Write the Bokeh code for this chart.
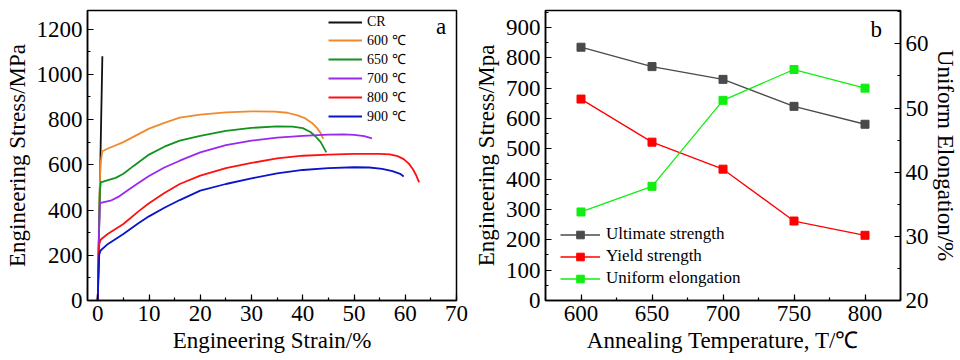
from bokeh.plotting import figure
from bokeh.layouts import row
from bokeh.models import (Range1d, LinearAxis, SingleIntervalTicker, Legend,
                          LegendItem, Label)
from bokeh.embed import file_html
from bokeh.resources import INLINE

FONT = "Liberation Serif"

# ---------------- data: panel a (stress-strain curves) ----------------
cr_strain = [0, 0.9]
cr_stress = [0, 1080]

s600_strain = [0, 0.2, 0.5, 0.9, 2, 5, 7.5, 10, 13, 16, 20, 25, 30, 34.5, 37, 39, 40.5, 41.8, 42.8, 43.5, 44.0]
s600_stress = [0, 300, 600, 660, 672, 700, 730, 760, 785, 808, 822, 832, 836, 835, 830, 818, 805, 785, 762, 740, 715]

s650_strain = [0, 0.2, 0.4, 0.6, 2, 3.5, 5, 7, 10, 13, 16, 20, 25, 30, 35, 38, 40, 41.5, 42.5, 43.5, 44.6]
s650_stress = [0, 250, 480, 522, 532, 542, 560, 595, 645, 680, 707, 728, 750, 763, 770, 769, 762, 745, 725, 700, 655]

s700_strain = [0, 0.2, 0.4, 1, 2.5, 4, 6, 8, 10, 13, 16, 20, 25, 30, 35, 40, 45, 48, 50, 52, 53.5]
s700_stress = [0, 250, 430, 434, 441, 458, 490, 520, 550, 588, 618, 655, 687, 707, 720, 728, 733, 734, 732, 727, 717]

s800_strain = [0, 0.15, 0.3, 0.6, 2, 5, 8, 10, 13, 16, 20, 25, 30, 35, 40, 45, 50, 55, 57, 58.5, 59.7, 60.7, 61.5, 62.1, 62.7]
s800_stress = [0, 150, 250, 270, 295, 338, 395, 430, 475, 515, 552, 585, 608, 628, 640, 645, 648, 648, 646, 638, 625, 605, 580, 555, 522]

s900_strain = [0, 0.15, 0.3, 0.6, 2, 5, 8, 10, 13, 16, 20, 25, 30, 35, 40, 45, 50, 53, 55.5, 57.5, 59, 59.7]
s900_stress = [0, 120, 205, 222, 250, 294, 343, 372, 410, 444, 486, 515, 540, 562, 577, 585, 589, 588, 582, 572, 560, 548]

curve_labels = ["CR", "600 ℃", "650 ℃", "700 ℃", "800 ℃", "900 ℃"]

# ---------------- data: panel b ----------------
temperature = [600, 650, 700, 750, 800]
ultimate_strength = [835, 771, 729, 640, 581]
yield_strength = [664, 522, 433, 262, 215]
uniform_elongation = [33.8, 37.8, 51.2, 56.0, 53.1]
series_labels = ["Ultimate strength", "Yield strength", "Uniform elongation"]


def style(p):
    p.outline_line_color = "black"
    p.outline_line_width = 1.5
    p.outline_line_alpha = 1
    p.grid.visible = False
    p.background_fill_color = "white"
    p.border_fill_color = "white"
    for ax in p.axis:
        ax.axis_line_color = "black"
        ax.axis_line_width = 1.5
        ax.major_tick_in = 6
        ax.major_tick_out = 0
        ax.minor_tick_in = 3
        ax.minor_tick_out = 0
        ax.major_tick_line_color = "black"
        ax.minor_tick_line_color = "black"
        ax.major_tick_line_width = 1.2
        ax.minor_tick_line_width = 1.2
        ax.major_label_text_font = FONT
        ax.major_label_text_font_size = "23px"
        ax.major_label_text_color = "black"
        ax.axis_label_text_font = FONT
        ax.axis_label_text_font_size = "23px"
        ax.axis_label_text_font_style = "normal"
        ax.axis_label_text_color = "black"
        ax.major_label_standoff = 5
        ax.axis_label_standoff = 4


# ---------------- panel a ----------------
p1 = figure(width=470, height=360, output_backend="svg", toolbar_location=None,
            x_range=Range1d(-2, 70), y_range=Range1d(0, 1282),
            min_border_left=87, min_border_right=14, min_border_top=10,
            min_border_bottom=60)
p1.xaxis.ticker = SingleIntervalTicker(interval=10, num_minor_ticks=2)
p1.yaxis.ticker = SingleIntervalTicker(interval=200, num_minor_ticks=2)
p1.xaxis.axis_label = "Engineering Strain/%"
p1.yaxis.axis_label = "Engineering Stress/MPa"

colors_a = ["#111111", "#f08a2c", "#12921e", "#9a28f0", "#ff1010", "#0a14c8"]
strains = [cr_strain, s600_strain, s650_strain, s700_strain, s800_strain, s900_strain]
stresses = [cr_stress, s600_stress, s650_stress, s700_stress, s800_stress, s900_stress]
items = []
for xs, ys, c, lab in zip(strains, stresses, colors_a, curve_labels):
    r = p1.line(xs, ys, line_color=c, line_width=1.8)
    items.append(LegendItem(label=lab, renderers=[r]))

leg1 = Legend(items=items, location=(241, 175), padding=0, margin=0,
              spacing=0, glyph_width=34, glyph_height=12, label_height=12,
              label_standoff=5, background_fill_alpha=0, border_line_alpha=0,
              label_text_font=FONT, label_text_font_size="14px",
              label_text_color="black")
p1.add_layout(leg1)
p1.add_layout(Label(x=67, y=1213, text="a", text_font=FONT, text_font_size="23px",
                    text_align="center", text_baseline="middle", text_color="black"))
style(p1)

# ---------------- panel b ----------------
p2 = figure(width=490, height=360, output_backend="svg", toolbar_location=None,
            x_range=Range1d(575, 825), y_range=Range1d(0, 956),
            min_border_left=75, min_border_right=40, min_border_top=10,
            min_border_bottom=60)
p2.extra_y_ranges = {"el": Range1d(20, 65.2)}
p2.xaxis.ticker = SingleIntervalTicker(interval=50, num_minor_ticks=2)
p2.yaxis.ticker = SingleIntervalTicker(interval=100, num_minor_ticks=2)
p2.xaxis.axis_label = "Annealing Temperature, T/℃"
p2.yaxis.axis_label = "Engineering Stress/Mpa"
ax_r = LinearAxis(y_range_name="el", axis_label="Uniform Elongation/%",
                  ticker=SingleIntervalTicker(interval=10, num_minor_ticks=2))
p2.add_layout(ax_r, "right")

l1 = p2.line(temperature, ultimate_strength, line_color="#4a4a4a", line_width=1.3)
m1 = p2.scatter(temperature, ultimate_strength, marker="square", size=8,
                fill_color="#4a4a4a", line_color="#4a4a4a")
l2 = p2.line(temperature, yield_strength, line_color="#ff0000", line_width=1.3)
m2 = p2.scatter(temperature, yield_strength, marker="square", size=8,
                fill_color="#ff0000", line_color="#ff0000")
l3 = p2.line(temperature, uniform_elongation, line_color="#11ee11", line_width=1.3,
             y_range_name="el")
m3 = p2.scatter(temperature, uniform_elongation, marker="square", size=8,
                fill_color="#11ee11", line_color="#11ee11", y_range_name="el")

leg2 = Legend(items=[LegendItem(label=series_labels[0], renderers=[l1, m1]),
                     LegendItem(label=series_labels[1], renderers=[l2, m2]),
                     LegendItem(label=series_labels[2], renderers=[l3, m3])],
              location=(15, 12), padding=0, margin=0, spacing=2,
              glyph_width=40, glyph_height=19, label_height=19,
              label_standoff=6, background_fill_alpha=0, border_line_alpha=0,
              label_text_font=FONT, label_text_font_size="17px",
              label_text_color="black")
p2.add_layout(leg2)
p2.add_layout(Label(x=808, y=893, text="b", text_font=FONT, text_font_size="23px",
                    text_align="center", text_baseline="middle", text_color="black"))
style(p2)
ax_r.axis_label_standoff = 1

layout = row(p1, p2)
open("out.html", "w").write(file_html(layout, INLINE))
